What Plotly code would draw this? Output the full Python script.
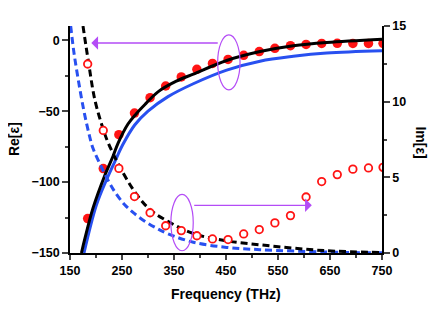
import plotly.graph_objects as go

# ---- data ----
# measured points (frequency in THz)
freq_pts = [184, 214, 244, 274, 304, 334, 364, 394, 424, 454, 484, 514, 544, 574, 604, 634, 664, 694, 724, 752]
re_pts = [-125.7, -90.5, -66.6, -51.4, -40.5, -32.3, -25.9, -20.5, -16.4, -13.6, -10.7, -8.0, -5.7, -3.9, -3.0, -2.3, -2.2, -2.3, -2.3, -2.2]
im_pts = [12.49, 8.10, 5.59, 3.73, 2.66, 1.80, 1.48, 1.14, 0.93, 0.89, 1.26, 1.55, 1.99, 2.47, 3.70, 4.72, 5.18, 5.54, 5.62, 5.66]

# black solid curve (Re, left axis)
f_black_re = [172, 178.8, 194.2, 216.7, 232.7, 242.3, 261.5, 277.5, 293.7, 319.2, 354.4, 387.1, 451.3, 515.4, 579.4, 643.7, 750]
v_black_re = [-150, -139.6, -118.4, -95.5, -81.8, -72.7, -59.1, -51.8, -45.5, -36.4, -28.9, -23.9, -14.3, -8.0, -3.9, -1.6, 0.7]

# blue solid curve (Re, left axis)
f_blue_re = [176.9, 200.6, 219.8, 236, 251.9, 274.4, 300, 338.5, 387.1, 451.3, 515.4, 579.4, 643.7, 750]
v_blue_re = [-150, -116.4, -98.7, -85.7, -73.4, -59.8, -50.0, -39.8, -30.7, -21.1, -14.8, -11.4, -9.1, -7.5]

# black dashed curve (Im, right axis)
f_black_im = [175, 186, 198.1, 214.8, 223.1, 245.6, 277.5, 303.8, 332.7, 387.1, 451.3, 515.4, 579.4, 643.7, 750]
v_black_im = [15, 12.51, 10.07, 8.08, 7.31, 5.70, 3.90, 2.87, 2.20, 1.29, 0.80, 0.54, 0.32, 0.15, 0.03]

# blue dashed curve (Im, right axis)
f_blue_im = [151.3, 157.7, 167.3, 176.9, 186, 194.2, 210.2, 226.3, 239, 255.2, 271.2, 293.7, 316, 338.5, 387.1, 451.3, 515.4, 643.7, 750]
v_blue_im = [15, 13.22, 11.16, 9.36, 7.95, 6.92, 5.70, 4.61, 3.90, 3.19, 2.68, 2.10, 1.65, 1.27, 0.71, 0.37, 0.22, 0.06, 0.01]

x_ticks = [150, 250, 350, 450, 550, 650, 750]
re_ticks = [-150, -100, -50, 0]
im_ticks = [0, 5, 10, 15]

BLUE = "#2850f0"
RED = "#ff1414"
PURPLE = "#b44cf6"
FONT = "Liberation Sans"

fig = go.Figure()

fig.add_trace(go.Scatter(x=freq_pts, y=re_pts, mode="markers",
                         marker=dict(color=RED, size=9.5), yaxis="y", showlegend=False))
fig.add_trace(go.Scatter(x=f_blue_re, y=v_blue_re, mode="lines", line=dict(color=BLUE, width=3, shape="spline"),
                         yaxis="y", showlegend=False))
fig.add_trace(go.Scatter(x=f_black_re, y=v_black_re, mode="lines", line=dict(color="black", width=3, shape="spline"),
                         yaxis="y", showlegend=False))
fig.add_trace(go.Scatter(x=f_blue_im, y=v_blue_im, mode="lines",
                         line=dict(color=BLUE, width=3, dash="7px,4px", shape="spline"),
                         yaxis="y2", showlegend=False))
fig.add_trace(go.Scatter(x=f_black_im, y=v_black_im, mode="lines",
                         line=dict(color="black", width=3, dash="7px,4px", shape="spline"),
                         yaxis="y2", showlegend=False))
fig.add_trace(go.Scatter(x=freq_pts, y=im_pts, mode="markers",
                         marker=dict(color="white", size=7.5, line=dict(color=RED, width=1.8)),
                         yaxis="y2", showlegend=False))

tickfont = dict(family=FONT, size=12.5, color="black", weight="bold")

# the page body has an 8px default margin, so the figure is sized/offset to compensate
fig.update_layout(
    width=428, height=301,
    margin=dict(l=62, r=54, t=11, b=56),
    paper_bgcolor="white", plot_bgcolor="white",
    xaxis=dict(range=[150, 750], tickvals=x_ticks, ticks="outside", ticklen=5, tickwidth=1.5,
               minor=dict(dtick=50, tick0=150, ticks="outside", ticklen=3, tickwidth=1.5),
               showline=True, linewidth=1.5, linecolor="black", showgrid=False, zeroline=False,
               tickfont=tickfont),
    xaxis2=dict(range=[150, 750], overlaying="x", side="top", anchor="y", dtick=50, tick0=150,
                ticks="inside", ticklen=3, tickwidth=1.2, showticklabels=False,
                showline=True, linewidth=1.5, linecolor="black", showgrid=False, zeroline=False),
    yaxis=dict(range=[-150, 10], tickvals=re_ticks, ticks="outside", ticklen=6, tickwidth=1.5,
               minor=dict(dtick=25, tick0=0, ticks="outside", ticklen=3.5, tickwidth=1.5),
               showline=True, linewidth=1.5, linecolor="black", showgrid=False, zeroline=False,
               tickfont=tickfont),
    yaxis2=dict(range=[0, 15], tickvals=im_ticks, overlaying="y", side="right", anchor="x",
                ticks="outside", ticklen=6, tickwidth=1.5,
                minor=dict(dtick=2.5, tick0=0, ticks="outside", ticklen=3.5, tickwidth=1.5),
                showline=True, linewidth=1.5, linecolor="black", showgrid=False, zeroline=False,
                tickfont=tickfont),
)

# ellipses
fig.add_shape(type="circle", xref="x", yref="y", x0=434, x1=477, y0=-35, y1=3.8,
              line=dict(color=PURPLE, width=1.2))
fig.add_shape(type="circle", xref="x", yref="y", x0=344, x1=387, y0=-148.4, y1=-108.7,
              line=dict(color=PURPLE, width=1.2))

# arrows
fig.add_annotation(x=191, y=-2, ax=437, ay=-2, xref="x", yref="y", axref="x", ayref="y",
                   showarrow=True, arrowhead=1, arrowsize=1.6, arrowwidth=1.4, arrowcolor=PURPLE, text="")
fig.add_annotation(x=615, y=-116.4, ax=386, ay=-116.4, xref="x", yref="y", axref="x", ayref="y",
                   showarrow=True, arrowhead=1, arrowsize=1.6, arrowwidth=1.4, arrowcolor=PURPLE, text="")

titlefont = dict(family=FONT, size=14, color="black", weight="bold")
fig.add_annotation(text="Frequency (THz)", xref="paper", yref="paper", x=0.5, y=-0.179,
                   showarrow=False, font=titlefont, xanchor="center", yanchor="middle")
fig.add_annotation(text="Re[ε]", xref="paper", yref="paper", x=-0.181, y=0.5, textangle=-90,
                   showarrow=False, font=titlefont, xanchor="center", yanchor="middle")
fig.add_annotation(text="Im[ε]", xref="paper", yref="paper", x=1.125, y=0.487, textangle=90,
                   showarrow=False, font=titlefont, xanchor="center", yanchor="middle")

fig.write_html("out.html")
